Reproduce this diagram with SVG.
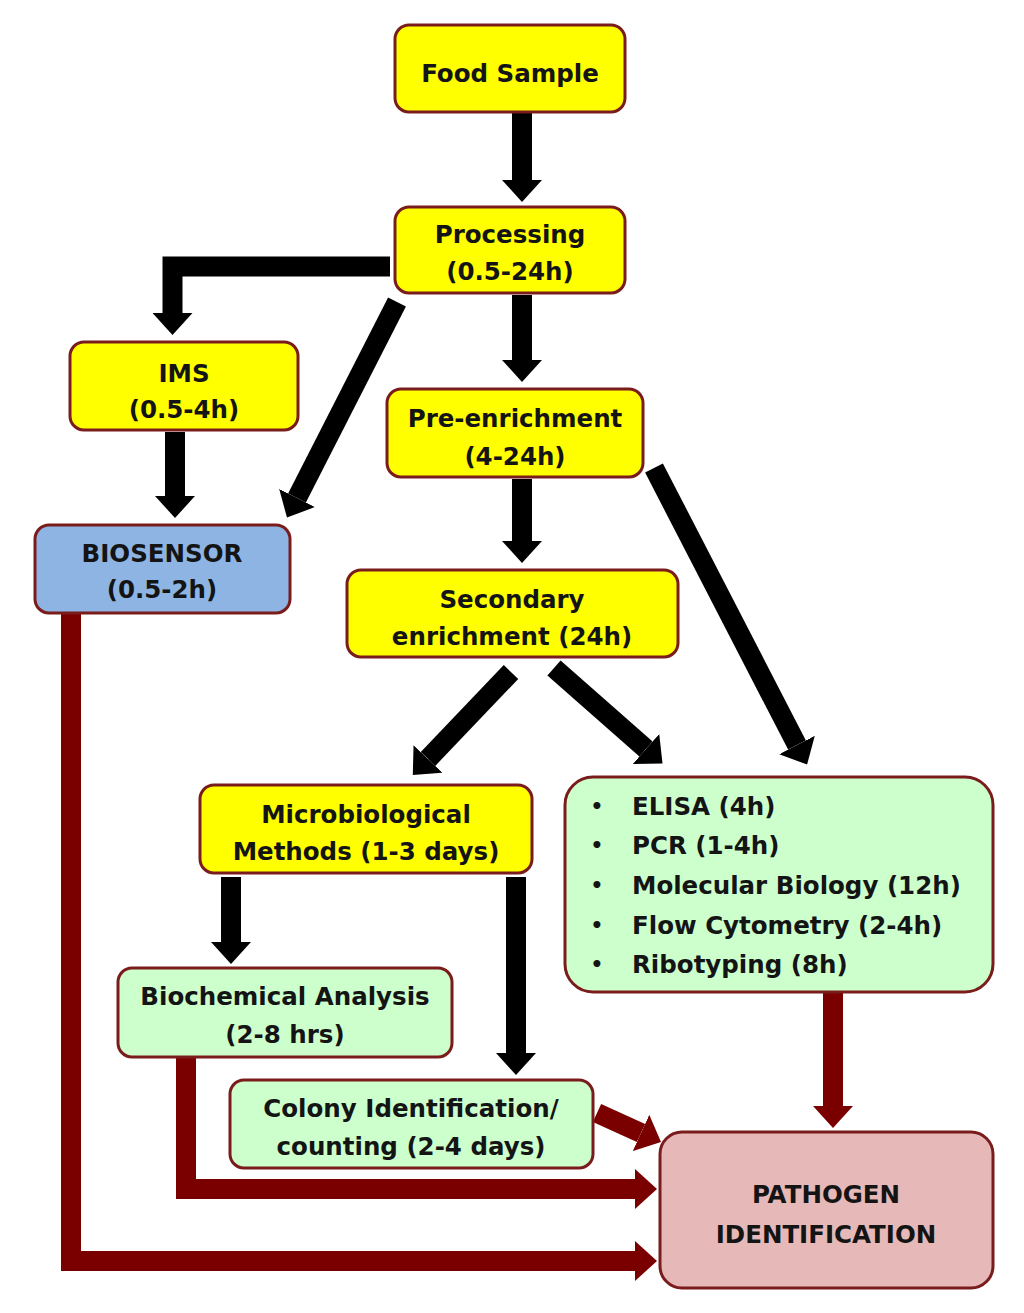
<svg xmlns="http://www.w3.org/2000/svg" width="1024" height="1313" viewBox="0 0 1024 1313">
<style>
.n{stroke:#7a1c1c;stroke-width:3}
.y{fill:#FFFF00}
.g{fill:#CCFFCC}
.b{fill:#8DB4E2}
.p{fill:#E6B9B8}
text{font-family:"DejaVu Sans","Liberation Sans",sans-serif;font-weight:bold;font-size:24.5px;fill:#141414;text-anchor:middle}
.l{text-anchor:start}
.bu{font-size:20px}
.k{fill:none;stroke:#000;stroke-width:20;stroke-linejoin:miter}
.r{fill:none;stroke:#7a0000;stroke-width:20;stroke-linejoin:miter}
</style>
<defs>
<marker id="hk" markerUnits="userSpaceOnUse" markerWidth="22" markerHeight="40" viewBox="0 0 22 40" refX="0" refY="20" orient="auto"><path d="M0,0 L22,20 L0,40 Z" fill="#000"/></marker>
<marker id="hr" markerUnits="userSpaceOnUse" markerWidth="22" markerHeight="40" viewBox="0 0 22 40" refX="0" refY="20" orient="auto"><path d="M0,0 L22,20 L0,40 Z" fill="#7a0000"/></marker>
</defs>
<rect width="1024" height="1313" fill="#fff"/>

<g id="connectors">
<line class="k" x1="522" y1="113" x2="522" y2="180" marker-end="url(#hk)"/>
<polyline class="k" points="390,266.5 172.5,266.5 172.5,313" stroke-width="21" marker-end="url(#hk)"/>
<line class="k" x1="397" y1="302" x2="297" y2="498" marker-end="url(#hk)"/>
<line class="k" x1="175" y1="432" x2="175" y2="496" marker-end="url(#hk)"/>
<line class="k" x1="522" y1="295" x2="522" y2="360" marker-end="url(#hk)"/>
<line class="k" x1="522" y1="479" x2="522" y2="541" marker-end="url(#hk)"/>
<line class="k" x1="654" y1="468" x2="797" y2="745" marker-end="url(#hk)"/>
<line class="k" x1="554" y1="668" x2="646" y2="749" marker-end="url(#hk)"/>
<line class="k" x1="511" y1="672" x2="428" y2="759" marker-end="url(#hk)"/>
<line class="k" x1="231" y1="877" x2="231" y2="942" marker-end="url(#hk)"/>
<line class="k" x1="516" y1="877" x2="516" y2="1053" marker-end="url(#hk)"/>
<polyline class="r" points="71,613 71,1261 635,1261" marker-end="url(#hr)"/>
<polyline class="r" points="186,1058 186,1189 635,1189" marker-end="url(#hr)"/>
<line class="r" x1="833" y1="993" x2="833" y2="1106" marker-end="url(#hr)"/>
<line class="r" x1="597" y1="1113" x2="641" y2="1133" stroke-width="18" marker-end="url(#hr)"/>
</g>

<g id="food-sample"><rect class="n y" x="395" y="25" width="230" height="87" rx="14"/><text x="510" y="82">Food Sample</text></g>
<g id="processing"><rect class="n y" x="395" y="207" width="230" height="86" rx="14"/><text x="510" y="243">Processing</text><text x="510" y="280">(0.5-24h)</text></g>
<g id="ims"><rect class="n y" x="70" y="342" width="228" height="88" rx="14"/><text x="184" y="382">IMS</text><text x="184" y="418">(0.5-4h)</text></g>
<g id="pre-enrichment"><rect class="n y" x="387" y="389" width="256" height="88" rx="14"/><text x="515" y="427">Pre-enrichment</text><text x="515" y="465">(4-24h)</text></g>
<g id="biosensor"><rect class="n b" x="35" y="525" width="255" height="88" rx="14"/><text x="162" y="562">BIOSENSOR</text><text x="162" y="598">(0.5-2h)</text></g>
<g id="secondary-enrichment"><rect class="n y" x="347" y="570" width="331" height="87" rx="14"/><text x="512" y="608">Secondary</text><text x="512" y="645">enrichment (24h)</text></g>
<g id="microbiological"><rect class="n y" x="200" y="785" width="332" height="88" rx="14"/><text x="366" y="823">Microbiological</text><text x="366" y="860">Methods (1-3 days)</text></g>
<g id="rapid-methods"><rect class="n g" x="565" y="777" width="428" height="215" rx="28"/>
<text class="bu" x="597" y="813">•</text><text class="l" x="632" y="815">ELISA (4h)</text>
<text class="bu" x="597" y="852">•</text><text class="l" x="632" y="854">PCR (1-4h)</text>
<text class="bu" x="597" y="892">•</text><text class="l" x="632" y="894">Molecular Biology (12h)</text>
<text class="bu" x="597" y="932">•</text><text class="l" x="632" y="934">Flow Cytometry (2-4h)</text>
<text class="bu" x="597" y="971">•</text><text class="l" x="632" y="973">Ribotyping (8h)</text></g>
<g id="biochemical"><rect class="n g" x="118" y="968" width="334" height="89" rx="14"/><text x="285" y="1005">Biochemical Analysis</text><text x="285" y="1043">(2-8 hrs)</text></g>
<g id="colony"><rect class="n g" x="230" y="1080" width="363" height="88" rx="14"/><text x="411" y="1117">Colony Identification/</text><text x="411" y="1155">counting (2-4 days)</text></g>
<g id="pathogen"><rect class="n p" x="660" y="1132" width="333" height="156" rx="22"/><text x="826" y="1203">PATHOGEN</text><text x="826" y="1243">IDENTIFICATION</text></g>
</svg>
